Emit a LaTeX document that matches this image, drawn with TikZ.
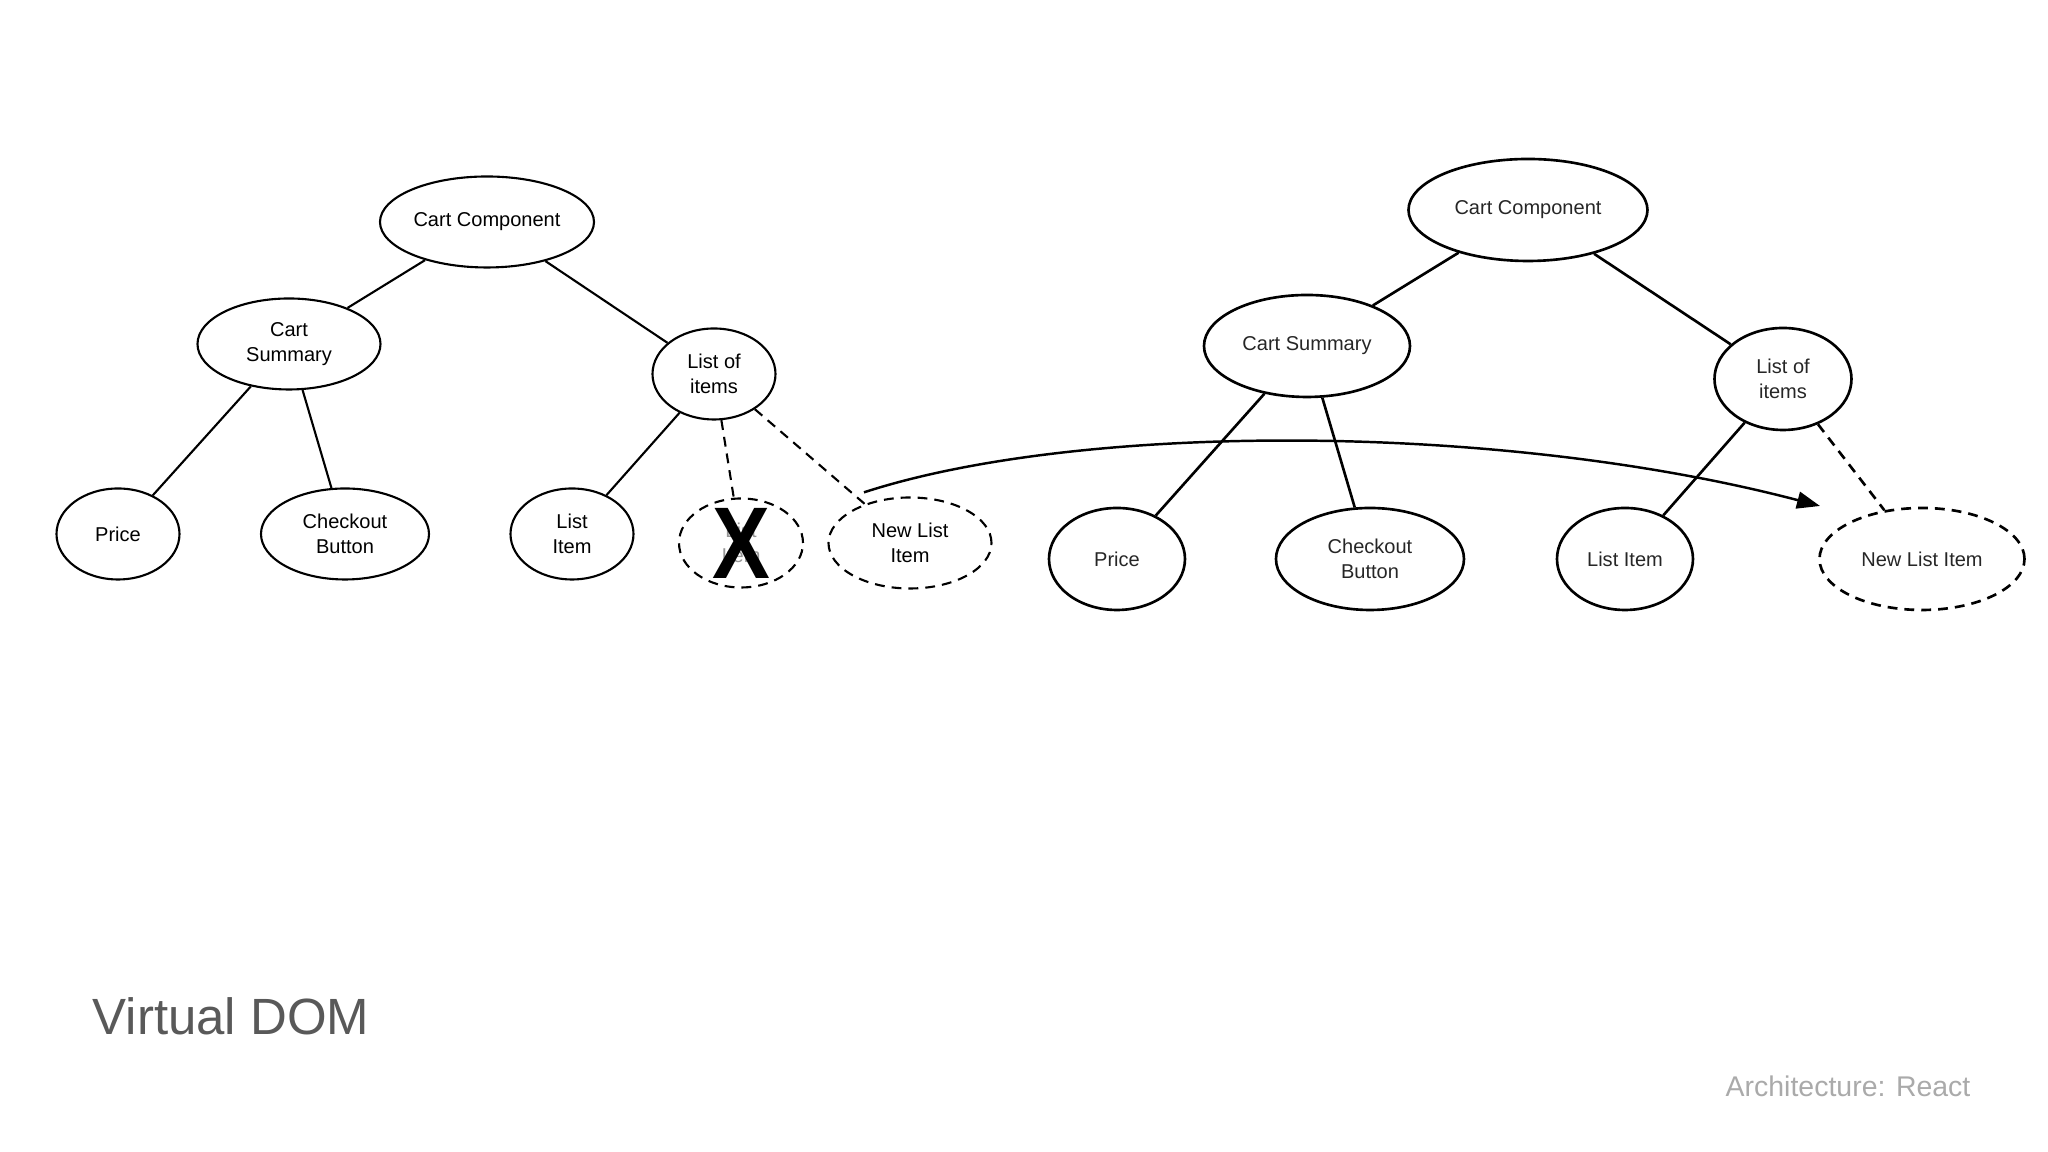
\documentclass[tikz,border=0pt]{standalone}
\usepackage{fontspec}
\setsansfont{Liberation Sans}
\usepackage{xcolor}
\usepackage{tikz}
\usetikzlibrary{arrows.meta,positioning,shapes.geometric}
\definecolor{vdgray}{RGB}{89,89,89}
\definecolor{vdlight}{RGB}{170,170,170}
\definecolor{vdfaint}{RGB}{150,150,150}

\begin{document}
\begin{tikzpicture}[
  font=\sffamily,
  elt/.style={draw, ellipse, inner sep=0pt, minimum height=0.91cm, align=center, line width=0.6pt,
              font=\sffamily\fontsize{5.7}{7.1}\selectfont},
  eltr/.style={elt, minimum height=1.02cm, line width=0.75pt, text=black!85},
  dashline/.style={dash pattern=on 2.8pt off 2pt},
  link/.style={line width=0.6pt},
  linkr/.style={line width=0.75pt},
]
\useasboundingbox (0,0) rectangle (20.48,11.52);

% ============ Left tree (virtual DOM before) ============
\node[elt, minimum width=2.14cm] (cartL) at (4.87,9.30) {Cart Component};
\node[elt, minimum width=1.83cm] (summL) at (2.89,8.08) {Cart\\Summary};
\node[elt, minimum width=1.23cm] (listL) at (7.14,7.78) {List of\\items};
\node[elt, minimum width=1.23cm] (priceL) at (1.18,6.18) {Price};
\node[elt, minimum width=1.68cm] (checkL) at (3.45,6.18) {Checkout\\Button};
\node[elt, minimum width=1.23cm] (itemL) at (5.72,6.18) {List\\Item};
\node[elt, dashline, minimum width=1.24cm, minimum height=0.89cm, text=vdfaint] (oldL) at (7.41,6.09) {List\\Item};
\node[elt, dashline, minimum width=1.63cm] (newL) at (9.10,6.09) {New List\\Item};

% removed item is crossed out
\node[inner sep=0pt, xscale=0.85, transform shape, font=\sffamily\bfseries\fontsize{29}{29}\selectfont] (crossX) at (oldL.center) {X};

% ============ Right tree (virtual DOM after) ============
\node[eltr, minimum width=2.39cm] (cartR) at (15.28,9.42) {Cart Component};
\node[eltr, minimum width=2.06cm] (summR) at (13.07,8.06) {Cart Summary};
\node[eltr, minimum width=1.37cm] (listR) at (17.83,7.73) {List of\\items};
\node[eltr, minimum width=1.36cm] (priceR) at (11.17,5.93) {Price};
\node[eltr, minimum width=1.88cm] (checkR) at (13.70,5.93) {Checkout\\Button};
\node[eltr, minimum width=1.36cm] (itemR) at (16.25,5.93) {List Item};
\node[eltr, dashline, minimum width=2.05cm] (newR) at (19.22,5.93) {New List Item};

% ============ Captions ============
\node[anchor=base west, inner sep=0pt, text=vdgray, font=\sffamily\fontsize{14.5}{17}\selectfont] (title) at (0.92,1.17) {Virtual DOM};
\node[anchor=base west, inner sep=0pt, text=vdlight, font=\sffamily\fontsize{8.1}{10}\selectfont] (footer) at (17.25,0.55) {Architecture: React};

% ===================== LINKS =====================
\draw[link] (cartL) -- (summL);
\draw[link] (cartL) -- (listL);
\draw[link] (summL) -- (priceL);
\draw[link] (summL) -- (checkL);
\draw[link] (listL) -- (itemL);
\draw[link, dashline] (listL) -- (oldL);
\draw[link, dashline] (listL) -- (newL);

\draw[linkr] (cartR) -- (summR);
\draw[linkr] (cartR) -- (listR);
\draw[linkr] (summR) -- (priceR);
\draw[linkr] (summR) -- (checkR);
\draw[linkr] (listR) -- (itemR);
\draw[linkr, dashline] (listR) -- (newR);

% new item carried over to the real DOM
\coordinate (tipR) at (18.20,6.46);
\draw[line width=0.7pt, -{Triangle[length=2.3mm,width=1.7mm]}]
  ([yshift=1.2mm]newL.140) .. controls (10.8,7.3) and (15.0,7.3) .. (tipR);

\end{tikzpicture}
\end{document}
